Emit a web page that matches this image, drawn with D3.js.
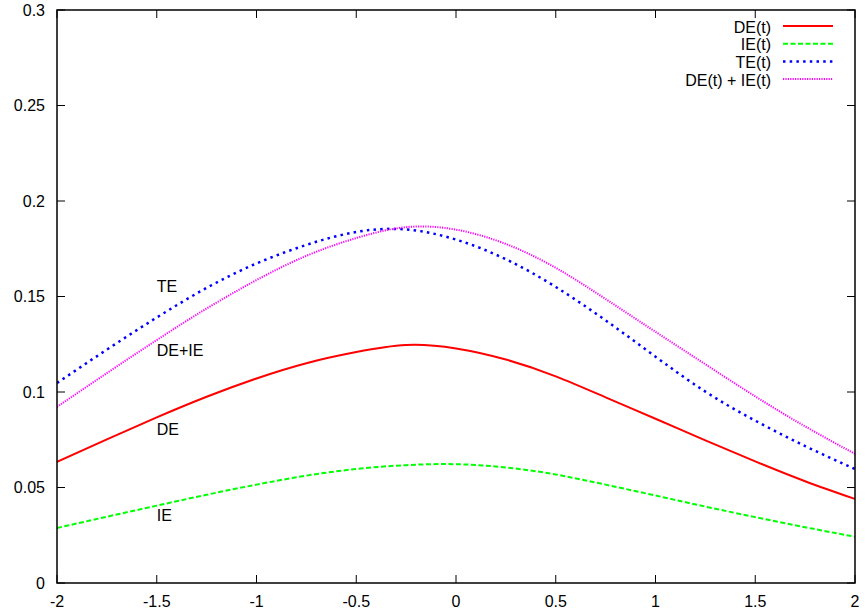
<!DOCTYPE html>
<html>
<head>
<meta charset="utf-8">
<script src="https://cdn.jsdelivr.net/npm/d3@7"></script>
<style>
  html, body { margin: 0; padding: 0; background: #fff; }
  svg { display: block; font-family: "Liberation Sans", Arial, Helvetica, sans-serif; }
</style>
</head>
<body>
<svg id="chart" width="865" height="614"></svg>
<script>
// ---- data ----
const tValues = [-2, -1.75, -1.5, -1.25, -1, -0.75, -0.5, -0.25, 0, 0.25, 0.5, 0.75, 1, 1.25, 1.5, 1.75, 2];
const deValues = [0.0634, 0.0752, 0.0867, 0.0975, 0.1071, 0.1151, 0.1209, 0.1246, 0.1228, 0.1170, 0.1082, 0.0972, 0.0860, 0.0747, 0.0637, 0.0533, 0.0440];
const ieValues = [0.0288, 0.0347, 0.0405, 0.0462, 0.0515, 0.0562, 0.0597, 0.0617, 0.0622, 0.0605, 0.0568, 0.0515, 0.0458, 0.0400, 0.0345, 0.0292, 0.0242];
const teValues = [0.1047, 0.1222, 0.1390, 0.1545, 0.1673, 0.1770, 0.1838, 0.1851, 0.1798, 0.1695, 0.1550, 0.1375, 0.1185, 0.1002, 0.0850, 0.0717, 0.0597];
const sumValues = [0.0922, 0.1099, 0.1272, 0.1437, 0.1586, 0.1713, 0.1806, 0.1863, 0.1850, 0.1775, 0.1650, 0.1487, 0.1315, 0.1145, 0.0977, 0.0820, 0.0676];
const xTicks = [-2, -1.5, -1, -0.5, 0, 0.5, 1, 1.5, 2];
const xTickLabels = ["-2", "-1.5", "-1", "-0.5", "0", "0.5", "1", "1.5", "2"];
const yTicks = [0, 0.05, 0.1, 0.15, 0.2, 0.25, 0.3];
const yTickLabels = ["0", "0.05", "0.1", "0.15", "0.2", "0.25", "0.3"];
const legendLabels = ["DE(t)", "IE(t)", "TE(t)", "DE(t) + IE(t)"];
const curveLabels = [
  { text: "TE", t: -1.5, v: 0.155 },
  { text: "DE+IE", t: -1.5, v: 0.1215 },
  { text: "DE", t: -1.5, v: 0.0803 },
  { text: "IE", t: -1.5, v: 0.0352 }
];

// ---- layout ----
const svg = d3.select("#chart");
const plotLeft = 57, plotRight = 855, plotTop = 10, plotBottom = 583;
const x = d3.scaleLinear().domain([-2, 2]).range([plotLeft, plotRight]);
const y = d3.scaleLinear().domain([0, 0.3]).range([plotBottom, plotTop]);
const tickLen = 8;
const fontSize = 16;

const series = [
  { name: legendLabels[0], values: deValues, color: "#ff0000", width: 2, dash: null },
  { name: legendLabels[1], values: ieValues, color: "#00ff00", width: 2, dash: "5,2.5" },
  { name: legendLabels[2], values: teValues, color: "#0000ff", width: 2.5, dash: "2.5,4.2" },
  { name: legendLabels[3], values: sumValues, color: "#ff00ff", width: 2, dash: "1.2,1.2" }
];

const clipId = "plotclip";
svg.append("defs").append("clipPath").attr("id", clipId)
  .append("rect").attr("x", plotLeft).attr("y", plotTop).attr("width", plotRight - plotLeft).attr("height", plotBottom - plotTop);

// ticks (inward, mirrored)
const tickG = svg.append("g").attr("stroke", "#000").attr("stroke-width", 1);
xTicks.forEach(t => {
  const px = x(t);
  tickG.append("line").attr("x1", px).attr("x2", px).attr("y1", plotBottom).attr("y2", plotBottom - tickLen);
  tickG.append("line").attr("x1", px).attr("x2", px).attr("y1", plotTop).attr("y2", plotTop + tickLen);
});
yTicks.forEach(v => {
  const py = y(v);
  tickG.append("line").attr("x1", plotLeft).attr("x2", plotLeft + tickLen).attr("y1", py).attr("y2", py);
  tickG.append("line").attr("x1", plotRight).attr("x2", plotRight - tickLen).attr("y1", py).attr("y2", py);
});

// tick labels
const labelG = svg.append("g").attr("font-size", fontSize).attr("fill", "#000");
xTicks.forEach((t, i) => {
  labelG.append("text").attr("x", x(t)).attr("y", plotBottom + 18)
    .attr("text-anchor", "middle").attr("dominant-baseline", "central").text(xTickLabels[i]);
});
yTicks.forEach((v, i) => {
  labelG.append("text").attr("x", plotLeft - 12).attr("y", y(v))
    .attr("text-anchor", "end").attr("dominant-baseline", "central").text(yTickLabels[i]);
});

// curves
const line = d3.line()
  .x((d, i) => x(tValues[i]))
  .y(d => y(d))
  .curve(d3.curveNatural);

const curveG = svg.append("g").attr("clip-path", `url(#${clipId})`);
series.forEach(s => {
  const p = curveG.append("path").datum(s.values)
    .attr("d", line)
    .attr("fill", "none")
    .attr("stroke", s.color)
    .attr("stroke-width", s.width)
    .attr("stroke-linejoin", "round");
  if (s.dash) p.attr("stroke-dasharray", s.dash);
});

// in-plot labels
curveLabels.forEach(c => {
  labelG.append("text").attr("x", x(c.t)).attr("y", y(c.v))
    .attr("text-anchor", "start").attr("dominant-baseline", "central").text(c.text);
});

// legend
const legG = svg.append("g");
const legRows = [26, 43.7, 61.4, 79.1];
series.forEach((s, i) => {
  const ry = legRows[i];
  legG.append("text").attr("x", 771).attr("y", ry + 1)
    .attr("font-size", fontSize).attr("text-anchor", "end").attr("dominant-baseline", "central")
    .text(s.name);
  const l = legG.append("line").attr("x1", 783).attr("x2", 833).attr("y1", ry).attr("y2", ry)
    .attr("stroke", s.color).attr("stroke-width", s.width);
  if (s.dash) l.attr("stroke-dasharray", s.dash);
});

// border
svg.append("rect").attr("x", plotLeft).attr("y", plotTop).attr("width", plotRight - plotLeft).attr("height", plotBottom - plotTop)
  .attr("fill", "none").attr("stroke", "#000").attr("stroke-width", 1.5);
</script>
</body>
</html>
